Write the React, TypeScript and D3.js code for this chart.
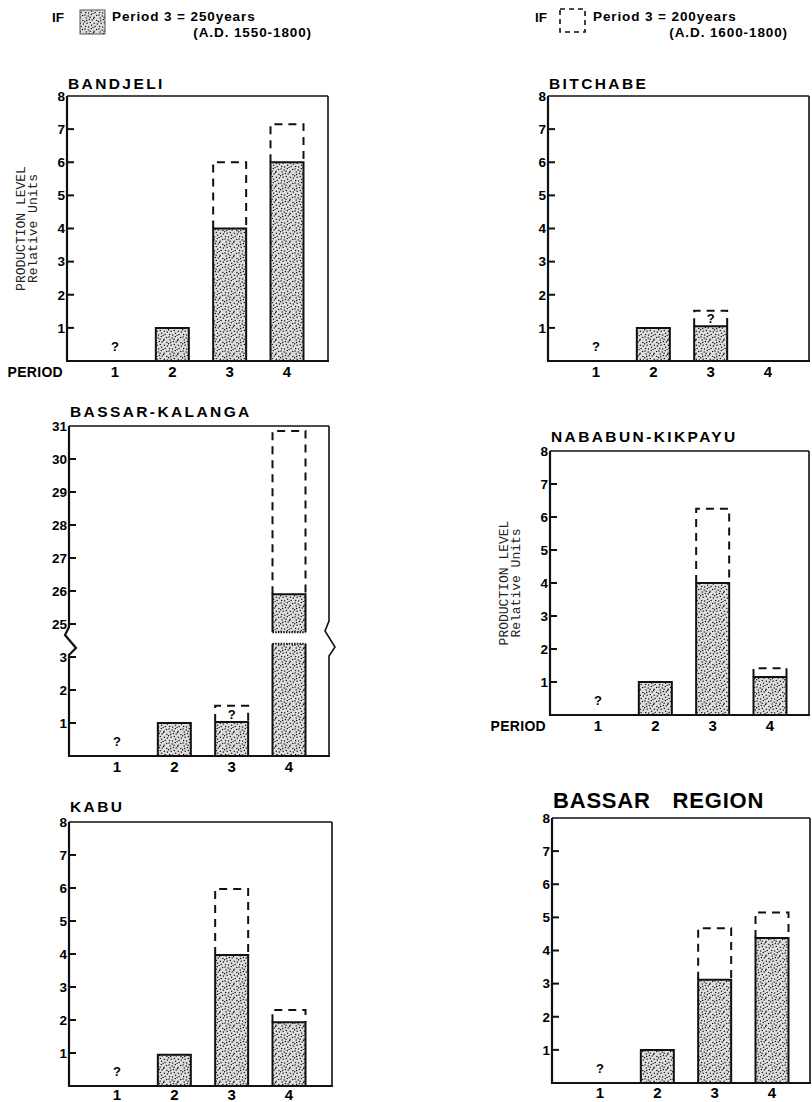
import React from 'react';
import * as d3 from 'd3';

// ---------- DATA ----------
const periods = [1, 2, 3, 4];
const periodLabels = ['1', '2', '3', '4'];

// solid (stippled) = Period 3 of 250 years; dashed = Period 3 of 200 years
const bandjeliSolid = [null, 1, 4, 6];
const bandjeliDashed = [null, null, 6, 7.15];

const bitchabeSolid = [null, 1, 1.05, null];
const bitchabeDashed = [null, null, 1.52, null];

const kalangaSolid = [null, 1, 1.03, 25.9];
const kalangaDashed = [null, null, 1.52, 30.85];
const kalangaBreakDomain = [3.5, 24.5];
const kalangaLowerPieceTop = 3.4;
const kalangaUpperPieceBottom = 24.75;

const nababunSolid = [null, 1, 4, 1.15];
const nababunDashed = [null, null, 6.25, 1.42];

const kabuSolid = [null, 0.95, 3.97, 1.93];
const kabuDashed = [null, null, 5.97, 2.3];

const regionSolid = [null, 1, 3.12, 4.38];
const regionDashed = [null, null, 4.67, 5.15];

const standardTicks = [1, 2, 3, 4, 5, 6, 7, 8];
const kalangaTicks = [1, 2, 3, 25, 26, 27, 28, 29, 30, 31];

const FONT = "'Liberation Sans', Arial, Helvetica, sans-serif";
const MONO = "'Liberation Mono', 'DejaVu Sans Mono', monospace";

// stipple dot layout for the texture tile (style only)
const stippleDots = [
  [1, 1], [4.2, 2.1], [7.3, 0.6], [10.1, 3.2], [2.2, 4.1], [5.4, 5.6], [8.2, 6.1],
  [0.6, 7.7], [3.1, 9.3], [6.3, 8.6], [10.3, 9.2], [12.6, 1.6], [1.6, 12.6], [7.6, 11.2],
  [12.9, 6.4], [11.1, 12.6], [4.6, 13.1], [13.3, 10.1], [9.1, 13.7], [6.1, 3.2],
  [2.7, 6.6], [9.6, 4.4]
];

type PanelProps = {
  title: string;
  titleSize?: number;
  titleSpacing?: number;
  wordSpacing?: number;
  titleY: number;
  left: number;
  right: number;
  top: number;
  bottom: number;
  solid: (number | null)[];
  dashed: (number | null)[];
  ticks: number[];
  yTitle?: boolean;
  periodWord?: boolean;
  innerQ?: number[];
  broken?: boolean;
  labelOffset?: number;
};

function Panel(p: PanelProps) {
  const maxV = p.ticks[p.ticks.length - 1];
  let y: d3.ScaleLinear<number, number>;
  if (p.broken) {
    const unit = (p.bottom - p.top) / (kalangaBreakDomain[0] + (maxV - kalangaBreakDomain[1]));
    const bp = p.bottom - kalangaBreakDomain[0] * unit;
    y = d3.scaleLinear().domain([0, kalangaBreakDomain[0], kalangaBreakDomain[1], maxV]).range([p.bottom, bp, bp, p.top]);
  } else {
    y = d3.scaleLinear().domain([0, maxV]).range([p.bottom, p.top]);
  }
  const x = d3.scalePoint<number>().domain(periods).range([p.left + 48, p.left + 220]);
  const bw = 33;
  const lo = p.labelOffset ?? 16;

  const elems: React.ReactNode[] = [];

  periods.forEach((per, i) => {
    const s = p.solid[i];
    const d = p.dashed[i];
    const cx = x(per)!;
    const x0 = cx - bw / 2;
    const x1 = cx + bw / 2;
    if (s != null && d != null && d > s) {
      elems.push(
        <path key={'d' + i} d={`M${x0},${y(s)}L${x0},${y(d)}L${x1},${y(d)}L${x1},${y(s)}`}
          fill="none" stroke="#111" strokeWidth={2} strokeDasharray="8,6" />
      );
    }
    if (s != null) {
      if (p.broken && s > kalangaBreakDomain[1]) {
        const lt = y(kalangaLowerPieceTop);
        const ub = y(kalangaUpperPieceBottom);
        elems.push(
          <g key={'b' + i}>
            <rect x={x0} y={lt} width={bw} height={p.bottom - lt} fill="url(#stip)" />
            <path d={`M${x0},${p.bottom}L${x0},${lt}M${x1},${lt}L${x1},${p.bottom}`} stroke="#111" strokeWidth={2} fill="none" />
            <path d={`M${x0},${lt}L${x1},${lt}`} stroke="#111" strokeWidth={2} strokeDasharray="1.5,1.2" fill="none" />
            <rect x={x0} y={y(s)} width={bw} height={ub - y(s)} fill="url(#stip)" />
            <path d={`M${x0},${ub}L${x0},${y(s)}L${x1},${y(s)}L${x1},${ub}`} stroke="#111" strokeWidth={2} fill="none" />
            <path d={`M${x0},${ub}L${x1},${ub}`} stroke="#111" strokeWidth={2} strokeDasharray="1.5,1.2" fill="none" />
          </g>
        );
      } else {
        elems.push(
          <g key={'s' + i}>
            <rect x={x0} y={y(s)} width={bw} height={p.bottom - y(s)} fill="url(#stip)" />
            <path d={`M${x0},${p.bottom}L${x0},${y(s)}L${x1},${y(s)}L${x1},${p.bottom}`} stroke="#111" strokeWidth={2} fill="none" />
          </g>
        );
      }
    }
  });

  (p.innerQ || []).forEach((per) => {
    const i = periods.indexOf(per);
    const s = p.solid[i]!;
    const d = p.dashed[i]!;
    elems.push(
      <text key={'iq' + per} x={x(per)!} y={(y(s) + y(d)) / 2} dy="0.38em" textAnchor="middle"
        fontFamily={FONT} fontWeight="bold" fontSize={13} fill="#000">?</text>
    );
  });

  let leftPath: string;
  let rightPath: string;
  if (p.broken) {
    const b = y(25);
    leftPath = `M${p.left},${p.top}L${p.left},${b + 3}L${p.left - 4},${b + 11}L${p.left + 7},${b + 24}L${p.left},${b + 31}L${p.left},${p.bottom}`;
    rightPath = `M${p.right},${p.top}L${p.right},${b - 3}L${p.right - 4},${b + 7}L${p.right + 6},${b + 23}L${p.right},${b + 32}L${p.right},${p.bottom}`;
  } else {
    leftPath = `M${p.left},${p.top}L${p.left},${p.bottom}`;
    rightPath = `M${p.right},${p.top}L${p.right},${p.bottom}`;
  }

  return (
    <g>
      <text x={p.left + 1} y={p.titleY} fontFamily={FONT} fontWeight="bold" fontSize={p.titleSize || 15.5}
        letterSpacing={p.titleSpacing ?? 2.4} wordSpacing={p.wordSpacing || 0} fill="#000">{p.title}</text>
      {elems}
      <path d={`M${p.left},${p.top}L${p.right},${p.top}`} stroke="#111" strokeWidth={1.6} />
      <path d={rightPath} stroke="#111" strokeWidth={1.6} fill="none" />
      <path d={`M${p.left - 1},${p.bottom}L${p.right + 1},${p.bottom}`} stroke="#111" strokeWidth={2.2} />
      <path d={leftPath} stroke="#111" strokeWidth={2.2} fill="none" />
      {p.ticks.map((t) => (
        <g key={'t' + t}>
          {t !== maxV && <line x1={p.left} x2={p.left + 7} y1={y(t)} y2={y(t)} stroke="#111" strokeWidth={2} />}
          <text x={p.left - 2} y={y(t)} dy="0.36em" textAnchor="end" fontFamily={FONT} fontWeight="bold"
            fontSize={13.5} fill="#000">{t}</text>
        </g>
      ))}
      {periods.map((per, i) => (
        <text key={'x' + per} x={x(per)!} y={p.bottom + lo} textAnchor="middle" fontFamily={FONT}
          fontWeight="bold" fontSize={15} fill="#000">{periodLabels[i]}</text>
      ))}
      <text x={x(1)!} y={p.bottom - 15} dy="0.38em" textAnchor="middle" fontFamily={FONT} fontWeight="bold"
        fontSize={13} fill="#000">?</text>
      {p.periodWord && (
        <text x={p.left - 4} y={p.bottom + lo} textAnchor="end" fontFamily={FONT} fontWeight="bold"
          fontSize={14} letterSpacing={0.3} fill="#000">PERIOD</text>
      )}
      {p.yTitle && (
        <g transform={`translate(${p.left - 42},${(p.top + p.bottom) / 2}) rotate(-90)`}>
          <text x={0} y={0} textAnchor="middle" fontFamily={MONO} fontSize={13} fill="#222">PRODUCTION LEVEL</text>
          <text x={0} y={12} textAnchor="middle" fontFamily={MONO} fontSize={13} fill="#222">Relative Units</text>
        </g>
      )}
    </g>
  );
}

export default function App() {
  return (
    <svg width={812} height={1102} style={{ position: 'absolute', left: 0, top: 0, background: '#fff' }}>
      <defs>
        <pattern id="stip" patternUnits="userSpaceOnUse" width={14} height={14}>
          <rect width={14} height={14} fill="#dedede" />
          {stippleDots.map(([dx, dy], i) => (
            <circle key={i} cx={dx} cy={dy} r={0.75} fill="#111" />
          ))}
        </pattern>
      </defs>
      <rect width={812} height={1102} fill="#fff" />

      <g fontFamily={FONT} fontWeight="bold" fill="#000">
        <text x={52} y={22} fontSize={13.5}>IF</text>
        <rect x={80} y={10} width={25} height={24} fill="url(#stip)" stroke="#555" strokeWidth={1} />
        <text x={112} y={21} fontSize={13.5} letterSpacing={0.9}>Period  3 = 250years</text>
        <text x={312} y={37} fontSize={13.5} letterSpacing={0.9} textAnchor="end">(A.D. 1550-1800)</text>

        <text x={535} y={22} fontSize={13.5}>IF</text>
        <rect x={560} y={9} width={25} height={23} fill="none" stroke="#111" strokeWidth={1.6} strokeDasharray="5,4" />
        <text x={593} y={21} fontSize={13.5} letterSpacing={0.9}>Period  3 = 200years</text>
        <text x={788} y={37} fontSize={13.5} letterSpacing={0.9} textAnchor="end">(A.D. 1600-1800)</text>
      </g>

      <Panel title="BANDJELI" titleY={89} left={67} right={328} top={96} bottom={361}
        solid={bandjeliSolid} dashed={bandjeliDashed} ticks={standardTicks} yTitle periodWord />
      <Panel title="BITCHABE" titleY={89} left={548} right={809} top={96} bottom={361}
        solid={bitchabeSolid} dashed={bitchabeDashed} ticks={standardTicks} innerQ={[3]} />
      <Panel title="BASSAR-KALANGA" titleY={417} left={69} right={329} top={426} bottom={756}
        solid={kalangaSolid} dashed={kalangaDashed} ticks={kalangaTicks} innerQ={[3]} broken />
      <Panel title="NABABUN-KIKPAYU" titleY={442} left={550} right={809} top={451} bottom={715}
        solid={nababunSolid} dashed={nababunDashed} ticks={standardTicks} yTitle periodWord />
      <Panel title="KABU" titleY={812} left={69} right={332} top={822} bottom={1086}
        solid={kabuSolid} dashed={kabuDashed} ticks={standardTicks} labelOffset={14} />
      <Panel title="BASSAR REGION" titleY={808} titleSize={22} titleSpacing={0.8} wordSpacing={15}
        left={552} right={810} top={818} bottom={1083}
        solid={regionSolid} dashed={regionDashed} ticks={standardTicks} labelOffset={15} />
    </svg>
  );
}
